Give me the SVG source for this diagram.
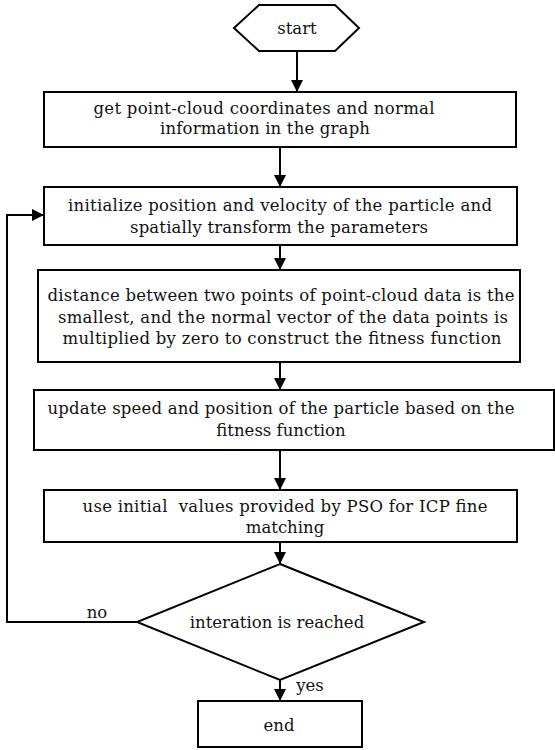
<svg xmlns="http://www.w3.org/2000/svg" width="555" height="750" viewBox="0 0 555 750">
<defs>
<style>
.n{fill:#fff;stroke:#000;stroke-width:2}
.c{fill:none;stroke:#000;stroke-width:2}
text{font-family:"DejaVu Serif","Liberation Serif",serif;font-size:16.5px;fill:#111;text-anchor:middle}
</style>
<marker id="ah" markerUnits="userSpaceOnUse" markerWidth="12" markerHeight="12" viewBox="0 0 12 12" refX="12" refY="6" orient="auto">
<path d="M0,0 L12,6 L0,12 z" fill="#000"/>
</marker>
</defs>
<rect width="555" height="750" fill="#fff"/>
<g id="connectors">
<path class="c" d="M297,51 V92" marker-end="url(#ah)"/>
<path class="c" d="M280,147 V187" marker-end="url(#ah)"/>
<path class="c" d="M280,245 V270" marker-end="url(#ah)"/>
<path class="c" d="M280,362 V390" marker-end="url(#ah)"/>
<path class="c" d="M280,450 V490" marker-end="url(#ah)"/>
<path class="c" d="M280,542 V564" marker-end="url(#ah)"/>
<path class="c" d="M280,680 V701" marker-end="url(#ah)"/>
<path class="c" d="M137,622 H7 V215 H44" marker-end="url(#ah)"/>
<text x="97" y="618">no</text>
<text x="310" y="691">yes</text>
</g>
<g id="start">
<polygon class="n" points="234,28 259,5 335,5 359,28 335,51 259,51"/>
<text x="297" y="34">start</text>
</g>
<g id="get">
<rect class="n" x="44" y="92" width="472" height="55"/>
<text x="264" y="114" textLength="341">get point-cloud coordinates and normal</text>
<text x="265" y="134" textLength="210">information in the graph</text>
</g>
<g id="init">
<rect class="n" x="44" y="187" width="473" height="58"/>
<text x="280" y="211" textLength="424">initialize position and velocity of the particle and</text>
<text x="279" y="233" textLength="298">spatially transform the parameters</text>
</g>
<g id="distance">
<rect class="n" x="38" y="270" width="482" height="92"/>
<text x="281" y="301" textLength="467">distance between two points of point-cloud data is the</text>
<text x="283" y="323" textLength="450">smallest, and the normal vector of the data points is</text>
<text x="282" y="344" textLength="439">multiplied by zero to construct the fitness function</text>
</g>
<g id="update">
<rect class="n" x="34" y="390" width="520" height="60"/>
<text x="281" y="414" textLength="467">update speed and position of the particle based on the</text>
<text x="281" y="436">fitness function</text>
</g>
<g id="use">
<rect class="n" x="44" y="490" width="473" height="52"/>
<text x="285" y="512" textLength="405" xml:space="preserve">use initial  values provided by PSO for ICP fine</text>
<text x="285" y="533">matching</text>
</g>
<g id="decision">
<polygon class="n" points="280,564 424,622 280,680 137,622"/>
<text x="277" y="628">interation is reached</text>
</g>
<g id="end">
<rect class="n" x="198" y="701" width="164" height="46"/>
<text x="279" y="731">end</text>
</g>
</svg>
